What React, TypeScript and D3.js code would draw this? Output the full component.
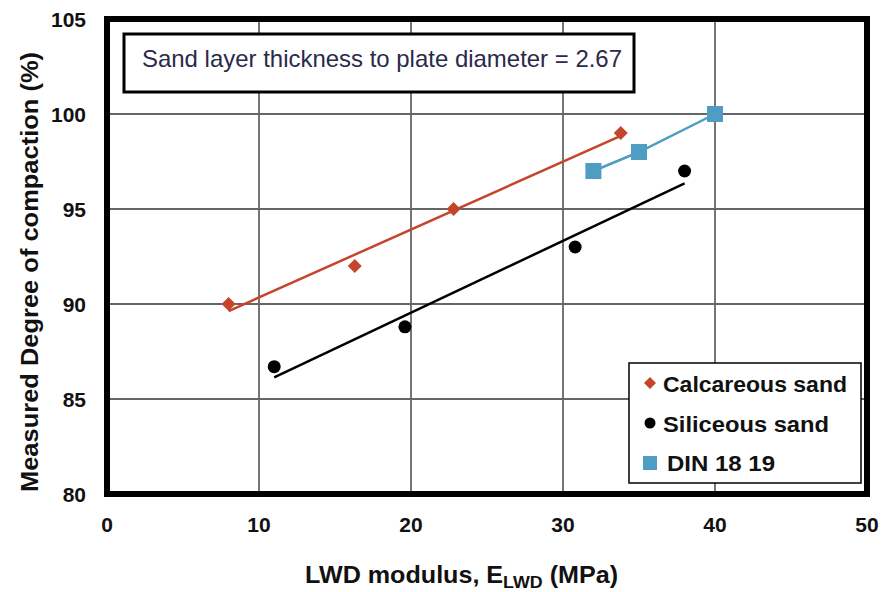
import React from "react";
import * as d3 from "d3";

const calcX = [8, 16.3, 22.8, 33.8];
const calcY = [90, 92, 95, 99];
const silX = [11, 19.6, 30.8, 38];
const silY = [86.7, 88.8, 93, 97];
const dinX = [32, 35, 40];
const dinY = [97, 98, 100];
const xTicks = [0, 10, 20, 30, 40, 50];
const yTicks = [80, 85, 90, 95, 100, 105];
const legendLabels = ["Calcareous sand", "Siliceous sand", "DIN 18 19"];

const RED = "#c4452b";
const BLUE = "#4f9dc3";

function fit(xs: number[], ys: number[]) {
  const mx = d3.mean(xs)!;
  const my = d3.mean(ys)!;
  let sxy = 0, sxx = 0;
  xs.forEach((x, i) => { sxy += (x - mx) * (ys[i] - my); sxx += (x - mx) * (x - mx); });
  const b = sxy / sxx;
  const a = my - b * mx;
  const x0 = d3.min(xs)!, x1 = d3.max(xs)!;
  return [[x0, a + b * x0], [x1, a + b * x1]];
}

export default function App() {
  const W = 883, H = 592;
  const x = d3.scaleLinear().domain([0, 50]).range([107, 867]);
  const y = d3.scaleLinear().domain([80, 105]).range([494, 19]);
  const line = d3.line<number[]>().x(d => x(d[0])).y(d => y(d[1]));
  const calcFit = fit(calcX, calcY);
  const silFit = fit(silX, silY);
  const dinPts = dinX.map((v, i) => [v, dinY[i]]);
  const font = "Arial, 'Liberation Sans', sans-serif";
  const diamond = (cx: number, cy: number, r: number) =>
    `M${cx},${cy - r}L${cx + r},${cy}L${cx},${cy + r}L${cx - r},${cy}Z`;
  const legendW = [184, 166, 108];

  return (
    <svg width={W} height={H} style={{ position: "absolute", left: 0, top: 0, background: "#fff" }} fontFamily={font}>
      <rect x={0} y={0} width={W} height={H} fill="#fff" />
      {/* grid */}
      {xTicks.slice(1, -1).map(t => (
        <line key={"gx" + t} x1={x(t)} x2={x(t)} y1={y(105)} y2={y(80)} stroke="#666" strokeWidth={1.8} />
      ))}
      {yTicks.slice(1, -1).map(t => (
        <line key={"gy" + t} x1={x(0)} x2={x(50)} y1={y(t)} y2={y(t)} stroke="#666" strokeWidth={1.8} />
      ))}
      {/* annotation box */}
      <rect x={124} y={34} width={510} height={58} fill="#fff" stroke="#000" strokeWidth={3} />
      <text x={142} y={67} fontSize={24} textLength={480} lengthAdjust="spacingAndGlyphs" fill="#2a2a4a">
        Sand layer thickness to plate diameter = 2.67
      </text>
      {/* fit lines */}
      <path d={line(calcFit)!} stroke={RED} strokeWidth={2.5} fill="none" />
      <path d={line(silFit)!} stroke="#000" strokeWidth={2.5} fill="none" />
      <path d={line(dinPts)!} stroke={BLUE} strokeWidth={2.5} fill="none" />
      {/* markers */}
      {calcX.map((v, i) => (
        <path key={"c" + i} d={diamond(x(v), y(calcY[i]), 7)} fill={RED} />
      ))}
      {silX.map((v, i) => (
        <circle key={"s" + i} cx={x(v)} cy={y(silY[i])} r={6.5} fill="#000" />
      ))}
      {dinX.map((v, i) => (
        <rect key={"d" + i} x={x(v) - 8} y={y(dinY[i]) - 8} width={16} height={16} fill={BLUE} />
      ))}
      {/* frame */}
      <rect x={x(0)} y={y(105)} width={x(50) - x(0)} height={y(80) - y(105)} fill="none" stroke="#000" strokeWidth={6} />
      {/* legend */}
      <rect x={629} y={363} width={232} height={120} fill="#fff" stroke="#000" strokeWidth={1.5} />
      <path d={diamond(650, 383, 6)} fill={RED} />
      <circle cx={650} cy={423} r={5.5} fill="#000" />
      <rect x={643} y={456} width={14} height={14} fill={BLUE} />
      {legendLabels.map((l, i) => (
        <text key={l} x={i === 2 ? 667 : 663} y={392 + i * 39.5} fontSize={22} fontWeight="bold" fill="#111"
          textLength={legendW[i]} lengthAdjust="spacingAndGlyphs">{l}</text>
      ))}
      {/* ticks labels */}
      {xTicks.map(t => (
        <text key={"xt" + t} x={x(t)} y={532} fontSize={21} fontWeight="bold" textAnchor="middle" fill="#111">{t}</text>
      ))}
      {yTicks.map(t => (
        <text key={"yt" + t} x={86} y={y(t) + 8} fontSize={21} fontWeight="bold" textAnchor="end" fill="#111">{t}</text>
      ))}
      {/* axis titles */}
      <text x={305} y={583} fontSize={24} fontWeight="bold" fill="#111" textLength={313} lengthAdjust="spacingAndGlyphs">
        LWD modulus, E<tspan fontSize={17} dy={5}>LWD</tspan><tspan dy={-5}> (MPa)</tspan>
      </text>
      <text transform={`translate(38,272) rotate(-90)`} fontSize={24} fontWeight="bold" textAnchor="middle" fill="#111"
        textLength={440} lengthAdjust="spacingAndGlyphs">
        Measured Degree of compaction (%)
      </text>
    </svg>
  );
}
